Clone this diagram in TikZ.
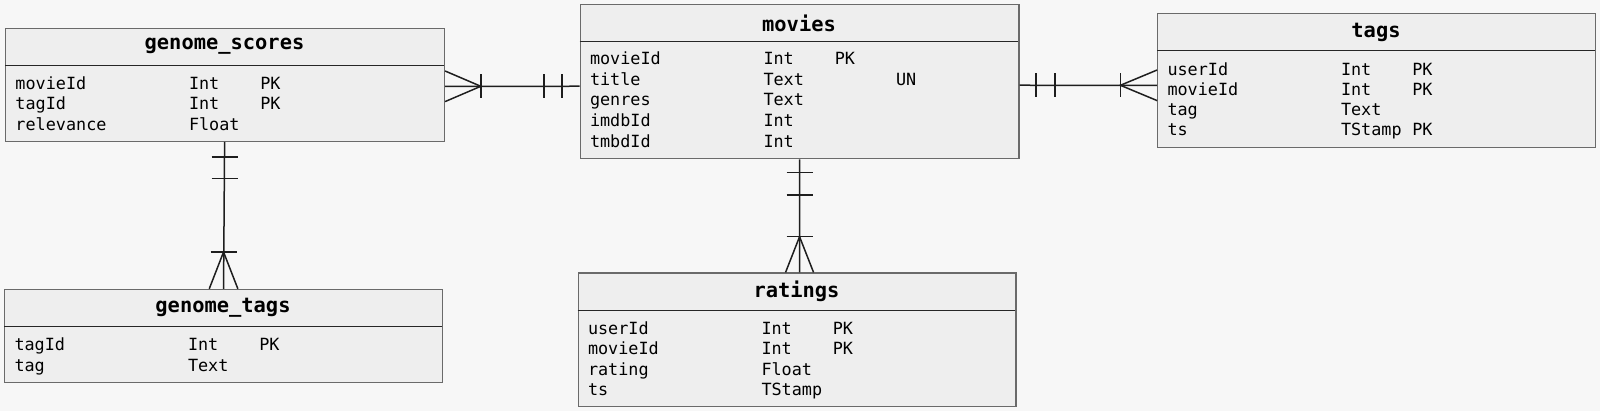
\documentclass[tikz,border=0pt]{standalone}
\usepackage{fontspec}
\setmonofont{DejaVu Sans Mono}
\definecolor{bgc}{HTML}{F7F7F7}
\definecolor{boxc}{HTML}{EEEEEE}
\definecolor{brd}{HTML}{6A6A6A}
\definecolor{linec}{HTML}{1E1E1E}
\tikzset{
  tbl/.style={draw=brd, fill=boxc, line width=1.2pt, anchor=north west, inner sep=0pt},
  hdr/.style={font=\ttfamily\bfseries\fontsize{20.4}{24}\selectfont, inner sep=0pt, text=black},
  fld/.style={font=\ttfamily\fontsize{16.8}{20}\selectfont, inner sep=0pt, anchor=west, text height=12pt, text depth=3.5pt, text=black},
  divl/.style={draw=black!85, line width=1pt},
  rel/.style={draw=linec, line width=1.5pt},
}
\newcommand{\erfield}[6]{%
  \node[fld] (#1n) at (#2+10.2,#3+2.5) {#4};
  \node[fld] (#1t) at (#2+183.7,#3+2.5) {#5};
  \node[fld] (#1k) at (#2+255,#3+2.5) {#6};}
\begin{document}
\begin{tikzpicture}[x=1pt,y=-1pt]
\fill[bgc] (0,0) rectangle (1600,411);
\useasboundingbox (0,0) rectangle (1600,411);

% genome_scores
\node[tbl, minimum width=438.8pt, minimum height=113.2pt] (gs) at (5.1,27.6) {};
\node[hdr] (gsT) at (224.5,46.5) {genome\_scores};
\draw[divl] (5.1,65.3) -- (443.9,65.3);
\erfield{gsa}{5.1}{82.7}{movieId}{Int}{PK}
\erfield{gsb}{5.1}{103.1}{tagId}{Int}{PK}
\erfield{gsc}{5.1}{123.5}{relevance}{Float}{}

% movies
\node[tbl, minimum width=438.8pt, minimum height=154.1pt] (m) at (579.6,4.1) {};
\node[hdr] (mT) at (799,23) {movies};
\draw[divl] (579.6,41.8) -- (1018.4,41.8);
\erfield{ma}{579.6}{58.2}{movieId}{Int}{PK}
\erfield{mb}{579.6}{78.6}{title}{Text}{}
\node[fld] (mbu) at (579.6+316.3,78.6+2.5) {UN};
\erfield{mc}{579.6}{99.2}{genres}{Text}{}
\erfield{md}{579.6}{119.8}{imdbId}{Int}{}
\erfield{me}{579.6}{140.3}{tmbdId}{Int}{}

% tags
\node[tbl, minimum width=437.8pt, minimum height=133.6pt] (tg) at (1157.1,13.3) {};
\node[hdr] (tgT) at (1376,32.2) {tags};
\draw[divl] (1157.1,51) -- (1594.9,51);
\erfield{ta}{1157.1}{68.4}{userId}{Int}{PK}
\erfield{tb}{1157.1}{88.6}{movieId}{Int}{PK}
\erfield{tc}{1157.1}{108.4}{tag}{Text}{}
\erfield{td}{1157.1}{128.6}{ts}{TStamp}{PK}

% genome_tags
\node[tbl, minimum width=437.7pt, minimum height=92.8pt] (gt) at (4.1,288.8) {};
\node[hdr] (gtT) at (223,307.7) {genome\_tags};
\draw[divl] (4.1,326.5) -- (441.8,326.5);
\erfield{gta}{4.1}{343.9}{tagId}{Int}{PK}
\erfield{gtb}{4.1}{364.3}{tag}{Text}{}

% ratings
\node[tbl, minimum width=437.7pt, minimum height=133.7pt] (r) at (577.6,272.4) {};
\node[hdr] (rT) at (796.5,291.3) {ratings};
\draw[divl] (577.6,310.2) -- (1015.3,310.2);
\erfield{ra}{577.6}{327.6}{userId}{Int}{PK}
\erfield{rb}{577.6}{348}{movieId}{Int}{PK}
\erfield{rc}{577.6}{368.4}{rating}{Float}{}
\erfield{rd}{577.6}{388.8}{ts}{TStamp}{}

% genome_scores -- movies
\coordinate (gsM) at ([yshift=-1.5pt]gs.east);
\coordinate (mG) at ([yshift=-4.5pt]m.west);
\draw[rel] (gsM) -- (mG);
\draw[rel] ([yshift=15.3pt]gsM) -- ([xshift=35.7pt]gsM) -- ([yshift=-15.3pt]gsM);
\draw[rel] ([xshift=35.7pt,yshift=12pt]gsM) -- ([xshift=35.7pt,yshift=-12pt]gsM);
\draw[rel] ([xshift=-35.7pt,yshift=12pt]mG) -- ([xshift=-35.7pt,yshift=-12pt]mG);
\draw[rel] ([xshift=-17.4pt,yshift=12pt]mG) -- ([xshift=-17.4pt,yshift=-12pt]mG);

% movies -- tags
\coordinate (mT2) at ([yshift=-3.5pt]m.east);
\coordinate (tM) at ([yshift=-4.6pt]tg.west);
\draw[rel] (mT2) -- (tM);
\draw[rel] ([xshift=16.3pt,yshift=12pt]mT2) -- ([xshift=16.3pt,yshift=-12pt]mT2);
\draw[rel] ([xshift=35.6pt,yshift=12pt]mT2) -- ([xshift=35.6pt,yshift=-12pt]mT2);
\draw[rel] ([yshift=15.3pt]tM) -- ([xshift=-36.7pt]tM) -- ([yshift=-15.3pt]tM);
\draw[rel] ([xshift=-36.7pt,yshift=12pt]tM) -- ([xshift=-36.7pt,yshift=-12pt]tM);

% genome_scores -- genome_tags
\coordinate (gsG) at ([xshift=-0.5pt]gs.south);
\coordinate (gtG) at (gt.north);
\draw[rel] (gsG) -- (gtG);
\draw[rel] ([xshift=-13pt,yshift=-15.2pt]gsG) -- ([xshift=13pt,yshift=-15.2pt]gsG);
\draw[rel] ([xshift=-13pt,yshift=-36.7pt]gsG) -- ([xshift=13pt,yshift=-36.7pt]gsG);
\draw[rel] ([xshift=-14.3pt]gtG) -- ([yshift=36.8pt]gtG) -- ([xshift=14.3pt]gtG);
\draw[rel] ([xshift=-13pt,yshift=36.8pt]gtG) -- ([xshift=13pt,yshift=36.8pt]gtG);

% movies -- ratings
\coordinate (mR) at (m.south);
\coordinate (rM) at ([xshift=2.5pt]r.north);
\draw[rel] (mR) -- (rM);
\draw[rel] ([xshift=-13pt,yshift=-13.2pt]mR) -- ([xshift=13pt,yshift=-13.2pt]mR);
\draw[rel] ([xshift=-13pt,yshift=-35.7pt]mR) -- ([xshift=13pt,yshift=-35.7pt]mR);
\draw[rel] ([xshift=-14pt]rM) -- ([yshift=35.7pt]rM) -- ([xshift=14pt]rM);
\draw[rel] ([xshift=-13pt,yshift=35.7pt]rM) -- ([xshift=13pt,yshift=35.7pt]rM);
\end{tikzpicture}
\end{document}
